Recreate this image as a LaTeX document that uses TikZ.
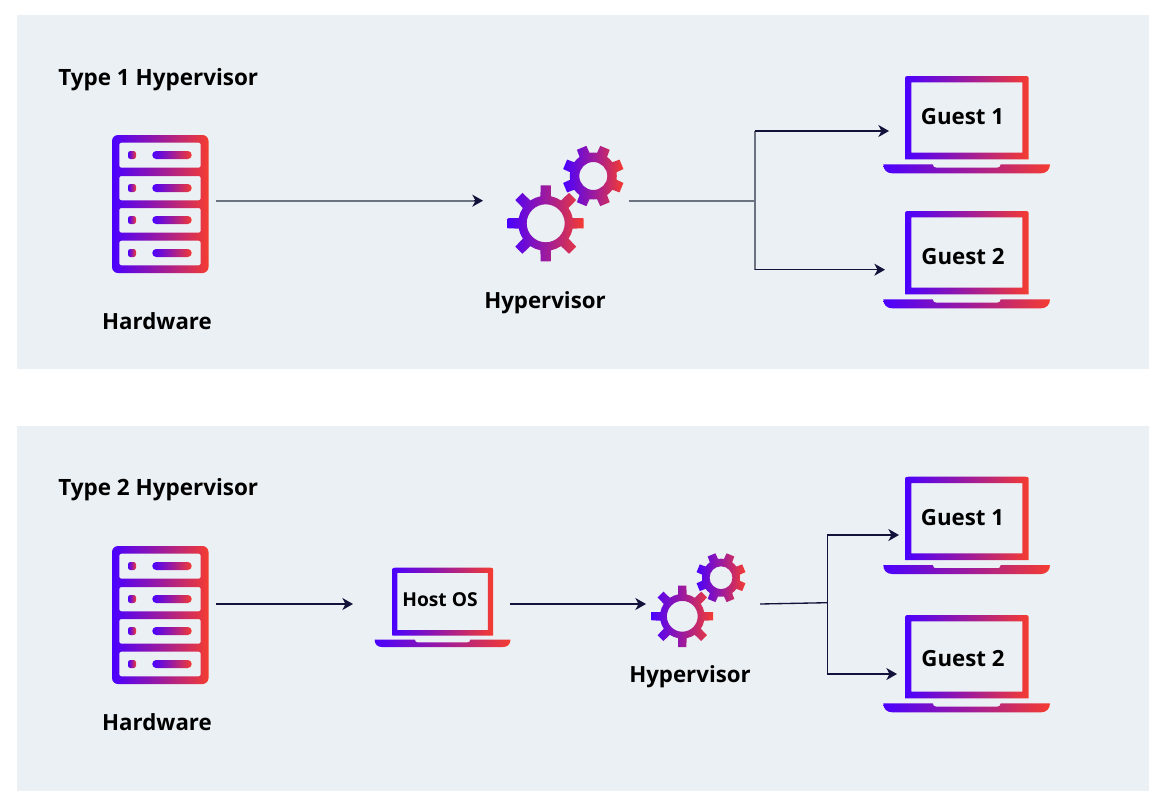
\documentclass[tikz,border=0pt]{standalone}
\usepackage{fontspec}
\setmainfont{Open Sans}
\usetikzlibrary{arrows.meta}
\definecolor{panelbg}{HTML}{EBF0F4}
\definecolor{gradl}{HTML}{4A00FF}
\definecolor{gradm}{HTML}{9C1A9E}
\definecolor{gradr}{HTML}{F53C30}
\definecolor{wiredark}{HTML}{12123A}
\definecolor{wiregray}{HTML}{6C7380}
\tikzset{
  panel/.style={fill=panelbg,draw=none},
  gradfill/.style={left color=gradl,right color=gradr,middle color=gradm,even odd rule,draw=none},
  port/.style={inner sep=0pt,outer sep=0pt,minimum height=20pt},
  title/.style={font=\bfseries\fontsize{16.85}{19}\selectfont,text=black,anchor=base west,inner sep=0pt},
  label/.style={font=\bfseries\fontsize{16.7}{19}\selectfont,text=black,anchor=base,inner sep=0pt},
  smalllabel/.style={font=\bfseries\fontsize{14.4}{17}\selectfont,text=black,anchor=base,inner sep=0pt},
  darkwire/.style={draw=wiredark,line width=1pt},
  graywire/.style={draw=wiregray,line width=1.3pt},
  tip/.style={-{Stealth[length=8pt,width=9pt,inset=2.4pt]}}
}
% server icon, #1,#2 = top-left corner
\newcommand{\servericon}[2]{%
  \begin{scope}[shift={(#1,#2)},x=0.75pt,y=-0.75pt]
    \path[gradfill] [rounded corners=4.5pt] (0,0) rectangle (96.5,138)
      [rounded corners=1.5pt]
      (7.3,7.7) rectangle (88.7,32.7)
      (7.3,41) rectangle (88.7,65.3)
      (7.3,73) rectangle (88.7,97.7)
      (7.3,105.7) rectangle (88.7,130.3);
    \foreach \yy in {20,53,85,118}{
      \path[gradfill,rounded corners=1.8pt] (16,\yy-4) rectangle (24,\yy+4);
      \path[gradfill,rounded corners=2.9pt] (40.3,\yy-4) rectangle (79.7,\yy+4);
    }
  \end{scope}}
% laptop icon, #1,#2 = top-left corner of the screen, #3 = scale
\newcommand{\laptopicon}[3]{%
  \begin{scope}[shift={(#1,#2)},x=0.75pt*#3,y=-0.75pt*#3]
    \path[gradfill] (0,83.3) -- (0,5) .. controls (0,0) and (0,0) .. (5,0)
      -- (118.7,0) .. controls (123.7,0) and (123.7,0) .. (123.7,5)
      -- (123.7,83.3) -- cycle
      (6.3,6.3) rectangle (117.3,76.7);
    \path[gradfill] (-21.7,88.3) -- (27.7,88.3) .. controls (28.5,91) and (29,91.5) .. (31,91.5)
      -- (92.5,91.5) .. controls (94.5,91.5) and (95,91) .. (95.7,88.3) -- (145,88.3)
      .. controls (145,94) and (141,97.3) .. (136,97.3)
      -- (-12.7,97.3) .. controls (-18,97.3) and (-21.7,94) .. (-21.7,88.3) -- cycle;
  \end{scope}}
% gear: #1,#2 centre, #3 start angle, #4 body radius, #5 tip radius, #6 half tooth width, #7 hole radius
\newcommand{\gearicon}[7]{%
  \pgfmathsetmacro{\gd}{asin(#6/#4)}
  \begin{scope}[shift={(#1,#2)},x=0.75pt,y=0.75pt]
    \path[gradfill] (#3+\gd:#4)
      \foreach \a in {0,45,...,315}{
        arc[start angle=#3+\a+\gd,end angle=#3+\a+45-\gd,radius=#4]
        -- ([rotate=#3+\a+45]#5,-#6*0.95) -- ([rotate=#3+\a+45]#5,#6*0.95) -- (#3+\a+45+\gd:#4)
      } -- cycle
      (0,0) circle[radius=#7];
  \end{scope}}
\begin{document}
\begin{tikzpicture}[x=0.75pt,y=-0.75pt]
  \useasboundingbox (0,0) rectangle (1167,807);
  \fill[white] (0,0) rectangle (1167,807);
  \path[panel] (17,15) rectangle (1149,369);
  \path[panel] (17,426) rectangle (1149,791);

  % icons
  \servericon{112}{135}
  \servericon{112}{546}
  \gearicon{545.7}{223.3}{0}{27.5}{38}{5.3}{19}
  \gearicon{593.3}{176}{22.5}{23.5}{30.5}{5.4}{14}
  \gearicon{682.3}{616.3}{0}{22.3}{30.8}{4.3}{15.4}
  \gearicon{721}{577.7}{22.5}{19}{24.7}{4.4}{11.4}
  \laptopicon{905}{76}{1}
  \laptopicon{905}{211}{1}
  \laptopicon{905}{476.7}{1}
  \laptopicon{905}{615}{1}
  \laptopicon{392.3}{567.7}{0.815}

  % connection anchors of the icons
  \node[port,minimum width=81pt] (hwa) at (162,200.7) {};
  \node[port,minimum width=109.5pt] (hva) at (556,200.7) {};
  \node[port,minimum width=120.75pt] (gaa) at (969.5,131) {};
  \node[port,minimum width=123.75pt] (gab) at (967.5,269.7) {};
  \node[port,minimum width=81pt] (hwb) at (162,604) {};
  \node[port,minimum width=117.75pt] (hos) at (431.5,604) {};
  \node[port,minimum width=85.5pt] (hvb) at (703,604) {};
  \node[port,minimum width=113.25pt] (gba) at (974.5,535) {};
  \node[port,minimum width=114.75pt] (gbb) at (973.5,674) {};
  \coordinate (ja) at (755,200.7);
  \coordinate (jb) at (827.3,602.7);

  % connectors, first panel
  \draw[graywire] (hwa.east) -- ([xshift=-6pt]hva.west);
  \draw[darkwire,tip] ([xshift=-7pt]hva.west) -- (hva.west);
  \draw[graywire] (hva.east) -- (ja);
  \draw[graywire] (ja |- gaa.west) -- (ja |- gab.west);
  \draw[darkwire,tip] (ja |- gaa.west) -- (gaa.west);
  \draw[darkwire,tip] (ja |- gab.west) -- (gab.west);
  % connectors, second panel
  \draw[darkwire,tip] (hwb.east) -- (hos.west);
  \draw[darkwire,tip] (hos.east) -- (hvb.west);
  \draw[darkwire] (hvb.east) -- (jb);
  \draw[darkwire] (jb |- gba.west) -- (jb |- gbb.west);
  \draw[darkwire,tip] (jb |- gba.west) -- (gba.west);
  \draw[darkwire,tip] (jb |- gbb.west) -- (gbb.west);

  % labels
  \node[title] (ta) at (58,85) {Type 1 Hypervisor};
  \node[title] (tb) at (58,495) {Type 2 Hypervisor};
  \node[label] (lhwa) at (157,329) {Hardware};
  \node[label] (lhwb) at (157,730) {Hardware};
  \node[label] (lhva) at (545,308) {Hypervisor};
  \node[label] (lhvb) at (690,682) {Hypervisor};
  \node[label] (lga) at (962.5,124) {Guest 1};
  \node[label] (lgb) at (963,264) {Guest 2};
  \node[label] (lgc) at (962.5,525) {Guest 1};
  \node[label] (lgd) at (963,666) {Guest 2};
  \node[smalllabel] (lhos) at (440,606) {Host OS};
\end{tikzpicture}
\end{document}
